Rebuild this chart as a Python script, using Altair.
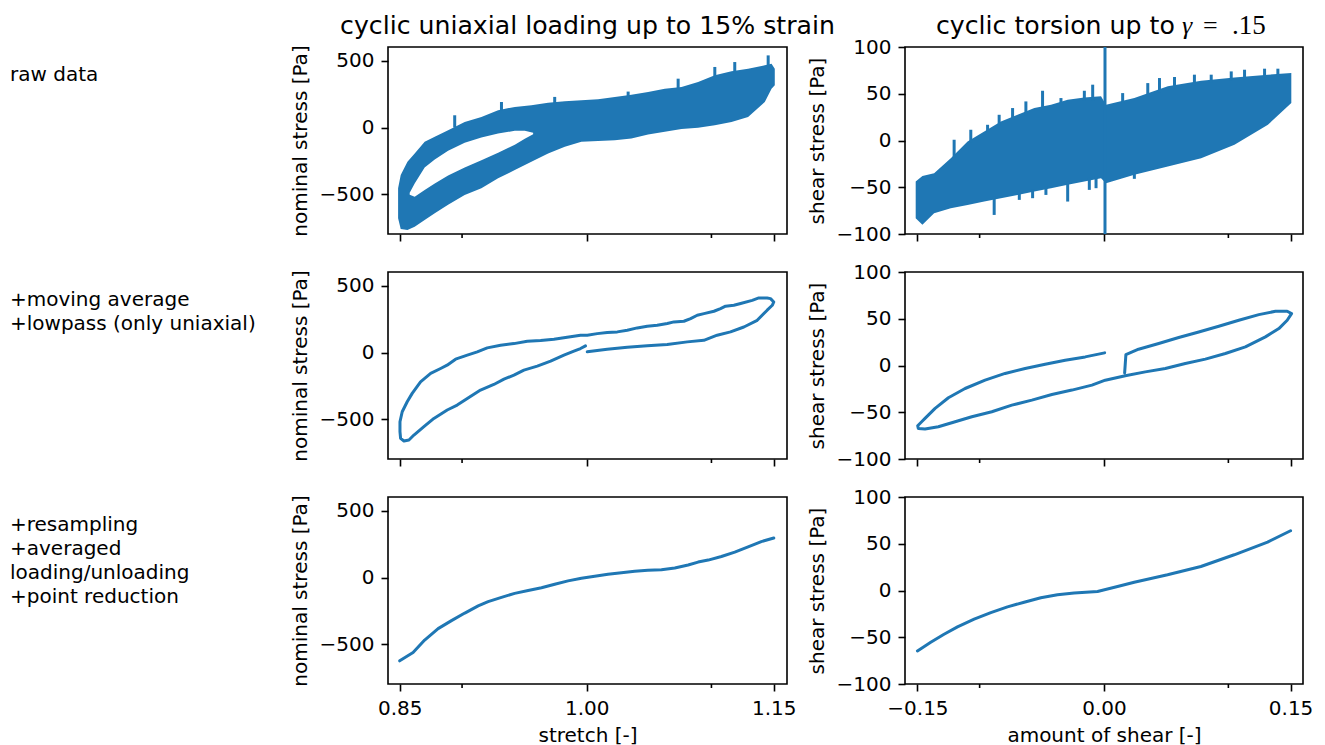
import altair as alt
import pandas as pd

BLUE = "#1f77b4"
FONT = "DejaVu Sans"
W1, W2, H = 399, 398, 187

# ---------------- raw data, uniaxial (band envelope) ----------------
raw_uni_x = [0.8487, 0.8508, 0.8562, 0.8620, 0.8700, 0.8781, 0.8888, 0.9021, 0.9155, 0.9289,
             0.9423, 0.9556, 0.9690, 0.9824, 0.9957, 1.0091, 1.0225, 1.0358, 1.0492, 1.0626,
             1.0760, 1.0893, 1.1027, 1.1161, 1.1294, 1.1428, 1.1482, 1.1508]
raw_uni_top = [-457, -357, -257, -195, -107, -70, -20, 42, 80, 130,
               155, 167, 187, 197, 205, 212, 230, 247, 267, 292,
               305, 342, 392, 422, 442, 467, 480, 442]
raw_uni_bot = [-682, -762, -770, -745, -695, -645, -580, -507, -457, -382,
               -320, -257, -195, -145, -107, -102, -95, -82, -52, -32,
               -12, -2, 17, 42, 80, 192, 292, 317]
# gap inside the loop
raw_uni_hole_x = [0.8580, 0.8620, 0.8700, 0.8781, 0.8888, 0.9021, 0.9155, 0.9289, 0.9423, 0.9503, 0.9570]
raw_uni_hole_top = [-490, -420, -300, -240, -175, -115, -75, -45, -25, -25, -40]
raw_uni_hole_bot = [-505, -520, -470, -420, -360, -300, -245, -190, -130, -85, -50]
# noise spikes above the band
raw_uni_spike_x = [0.8941, 0.9316, 0.9743, 1.0332, 1.0733, 1.1027, 1.1187, 1.1455]
raw_uni_spike_base = [0, 125, 180, 235, 290, 380, 415, 460]
raw_uni_spike_tip = [92, 192, 230, 270, 367, 455, 492, 542]

# ---------------- raw data, torsion ----------------
raw_tor_x = [-0.1514, -0.1460, -0.1366, -0.1232, -0.1097, -0.0963, -0.0829, -0.0695, -0.0560, -0.0426,
             -0.0292, -0.0158, -0.0024, 0.0016, 0.0244, 0.0513, 0.0781, 0.1049, 0.1318, 0.1506]
raw_tor_top = [-43.9, -38.0, -35.0, -18.9, -1.0, 9.7, 20.4, 27.5, 34.7, 38.2,
               43.6, 46.1, 47.2, 38.2, 45.4, 57.9, 63.9, 67.5, 70.4, 72.2]
raw_tor_bot = [-83.1, -90.0, -77.8, -72.4, -68.9, -65.3, -61.7, -58.2, -54.6, -51.0,
               -47.4, -43.9, -40.3, -45.7, -36.7, -27.8, -18.9, -4.6, 16.8, 40.0]
raw_tor_up_x = [-0.1205, -0.1071, -0.0936, -0.0843, -0.0735, -0.0628, -0.0494, -0.0346, -0.0158, -0.0091,
                0.0150, 0.0352, 0.0446, 0.0567, 0.0727, 0.0862, 0.1023, 0.1130, 0.1291, 0.1398]
raw_tor_up_base = [-18, -2, 8, 16, 22, 27, 33, 38, 43, 43, 39, 47, 51, 56, 59, 62, 64, 65, 67, 68]
raw_tor_up_tip = [0.8, 11.5, 16.8, 27.5, 34.7, 41.8, 53.2, 45.4, 53.2, 59.7,
                  50.7, 61.4, 66.8, 67.9, 70.4, 70.4, 73.9, 75.7, 76.8, 76.8]
raw_tor_dn_x = [-0.0883, -0.0681, -0.0574, -0.0467, -0.0292, -0.0118, -0.0064, 0.0244]
raw_tor_dn_base = [-60, -55, -52, -49, -44, -40, -38, -34]
raw_tor_dn_tip = [-79.6, -63.5, -61.7, -58.2, -65.3, -52.8, -51.0, -41.0]
raw_tor_jump_x = [0.0008]
raw_tor_jump_lo = [-100]
raw_tor_jump_hi = [100]

# ---------------- moving average (path order) ----------------
ma_uni_x = [1.0004, 1.0164, 1.0325, 1.0485, 1.0645, 1.0806, 1.0939, 1.1046, 1.1153, 1.1260,
            1.1367, 1.1447, 1.1488, 1.1500, 1.1474, 1.1447, 1.1380, 1.1327, 1.1234, 1.1180,
            1.1113, 1.1073, 1.1020, 1.0940, 1.0886, 1.0833, 1.0779, 1.0699, 1.0646, 1.0565,
            1.0485, 1.0405, 1.0325, 1.0245, 1.0164, 1.0084, 1.0004, 0.9950, 0.9843, 0.9737,
            0.9630, 0.9523, 0.9416, 0.9309, 0.9202, 0.9122, 0.9042, 0.8948, 0.8880, 0.8828,
            0.8748, 0.8667, 0.8600, 0.8560, 0.8520, 0.8502, 0.8502, 0.8507, 0.8534, 0.8574,
            0.8614, 0.8694, 0.8774, 0.8881, 0.8961, 0.9042, 0.9148, 0.9255, 0.9336, 0.9416,
            0.9496, 0.9603, 0.9710, 0.9817, 0.9897, 0.9950, 0.9990]
ma_uni_y = [5, 25, 40, 50, 60, 80, 92, 130, 155, 192,
            242, 318, 355, 380, 405, 410, 410, 392, 368, 355,
            348, 330, 310, 292, 280, 255, 235, 230, 218, 205,
            198, 185, 168, 155, 150, 142, 130, 130, 115, 100,
            90, 85, 67, 55, 35, 5, -20, -50, -95, -120,
            -157, -220, -307, -370, -445, -520, -595, -645, -665, -657,
            -620, -557, -495, -432, -395, -345, -282, -240, -200, -170,
            -132, -102, -65, -20, 10, 30, 50]

ma_tor_x = [0.0166, 0.0176, 0.0278, 0.0440, 0.0601, 0.0762, 0.0923, 0.1084, 0.1245, 0.1379,
            0.1473, 0.1508, 0.1473, 0.1406, 0.1298, 0.1137, 0.0976, 0.0815, 0.0654, 0.0493,
            0.0332, 0.0171, 0.0010, -0.0097, -0.0258, -0.0419, -0.0580, -0.0741, -0.0902, -0.1063,
            -0.1197, -0.1332, -0.1439, -0.1493, -0.1498, -0.1466, -0.1439, -0.1358, -0.1251, -0.1117,
            -0.0956, -0.0795, -0.0634, -0.0473, -0.0312, -0.0151, 0.0005]
ma_tor_y = [-7.8, 11.7, 17.4, 23.5, 29.9, 35.9, 42.0, 48.4, 54.4, 58.0,
            58.0, 55.5, 48.4, 39.5, 30.6, 19.9, 12.8, 6.8, 2.1, -3.2,
            -6.8, -11.0, -15.7, -21.0, -26.3, -31.0, -37.0, -42.4, -49.5, -54.8,
            -60.2, -65.5, -68.0, -67.3, -64.4, -60.2, -56.6, -45.9, -34.5, -24.6,
            -15.7, -8.5, -3.2, 1.4, 5.7, 9.2, 13.5]

# ---------------- reduced curves ----------------
red_uni_x = [0.85, 0.8607, 0.870, 0.8808, 0.8915, 0.9022, 0.9129, 0.9209, 0.9316, 0.9422,
             0.953, 0.9637, 0.9743, 0.985, 0.9957, 1.0064, 1.017, 1.0278, 1.0385, 1.049,
             1.0599, 1.0706, 1.0813, 1.0893, 1.0974, 1.108, 1.1187, 1.1294, 1.14, 1.15]
red_uni_y = [-626, -564, -470, -384, -324, -267, -213, -181, -149, -119,
             -97, -77, -50, -25, -5, 10, 25, 35, 47, 54,
             59, 72, 94, 116, 131, 158, 191, 230, 270, 297]
red_tor_x = [-0.15, -0.1393, -0.1286, -0.1178, -0.1044, -0.091, -0.0776, -0.0642, -0.0508, -0.0374,
             -0.024, -0.0052, 0.0109, 0.0243, 0.0511, 0.0779, 0.1047, 0.1315, 0.15]
red_tor_y = [-64.6, -55.4, -46.8, -38.9, -30.7, -23.6, -17.5, -12.5, -7.8, -4.6,
             -2.6, -1.1, 4.3, 8.9, 16.8, 25.7, 38.2, 51.8, 63.9]

# ---------------- axes / labels ----------------
uni_major = [0.85, 1.0, 1.15]
uni_minor = [0.9, 1.1]
tor_major = [-0.15, 0.0, 0.15]
tor_minor = [-0.1, 0.1]
uni_yticks = [-500, 0, 500]
tor_yticks = [-100, -50, 0, 50, 100]
X_UNI = [0.8406, 1.1606]
X_TOR = [-0.16, 0.16]
Y_UNI = [-800, 605]
Y_TOR = [-100, 100]

row_labels = ["raw data",
              "+moving average\n+lowpass (only uniaxial)",
              "+resampling\n+averaged\nloading/unloading\n+point reduction"]
title_uni = "cyclic uniaxial loading up to 15% strain"
title_tor_text = "cyclic torsion up to"
title_tor_gamma = "γ"
title_tor_eq = "="
title_tor_val = ".15"
xtitle_uni = "stretch [-]"
xtitle_tor = "amount of shear [-]"
ytitle_uni = "nominal stress [Pa]"
ytitle_tor = "shear stress [Pa]"

common_axis = dict(grid=False, domain=False, tickColor="black", tickWidth=1.6, tickSize=7,
                   labelFont=FONT, labelFontSize=20, labelColor="black", labelPadding=7,
                   labelFlush=False, labelOverlap=False,
                   titleFont=FONT, titleFontSize=20, titleFontWeight="normal", titleColor="black")


def make_x(field, dom, major, bottom, title):
    if bottom:
        ax = alt.Axis(values=major, format=".2f", title=title, titlePadding=7, **common_axis)
    else:
        ax = alt.Axis(values=major, labels=False, title=None, **common_axis)
    return alt.X(f"{field}:Q", scale=alt.Scale(domain=dom, nice=False, zero=False), axis=ax)


def make_y(field, dom, ticks, title):
    ax = alt.Axis(values=ticks, format="d", title=title, titlePadding=9, **common_axis)
    return alt.Y(f"{field}:Q", scale=alt.Scale(domain=dom, nice=False, zero=False), axis=ax)


def panel(layers_spec, dom_x, dom_y, major, minor, yticks, bottom, xtitle, ytitle, width, extra=()):
    X = lambda f: make_x(f, dom_x, major, bottom, xtitle)
    Y = lambda f: make_y(f, dom_y, yticks, ytitle)
    layers = []
    for kind, data, opts in layers_spec:
        base = alt.Chart(data)
        if kind == "area":
            layers.append(base.mark_area(clip=True, **opts).encode(
                x=X("x"), y=Y("lo"), y2="hi"))
        elif kind == "rule":
            layers.append(base.mark_rule(clip=True, **opts).encode(
                x=X("x"), y=Y("lo"), y2="hi"))
        elif kind == "line":
            layers.append(base.mark_line(clip=True, **opts).encode(
                x=X("x"), y=Y("y"), order=alt.Order("i:Q")))
    minor_df = pd.DataFrame({"x": minor})
    layers.append(alt.Chart(minor_df).mark_rule(color="black", strokeWidth=1.6).encode(
        x=X("x"), y=alt.value(H), y2=alt.value(H + 4)))
    layers.extend(extra)
    return alt.layer(*layers).properties(width=width, height=H)


def text_layer(txt, x, y, size=20, font=FONT, align="left", style="normal"):
    return alt.Chart(pd.DataFrame({"t": [txt]})).mark_text(
        font=font, fontSize=size, fontStyle=style, color="black", align=align,
        baseline="alphabetic", lineBreak="\n", lineHeight=24).encode(
        x=alt.value(x), y=alt.value(y), text="t:N")


def path_df(xs, ys):
    assert len(xs) == len(ys)
    return pd.DataFrame({"x": xs, "y": ys, "i": list(range(len(xs)))})


def band_df(xs, lo, hi):
    assert len(xs) == len(lo) == len(hi)
    return pd.DataFrame({"x": xs, "lo": lo, "hi": hi})


line_opts = dict(color=BLUE, strokeWidth=3, strokeJoin="round", strokeCap="round")
LABEL_X = -378
LABEL_Y = 34
TITLE_SIZE = 25.2

p11 = panel([
    ("area", band_df(raw_uni_x, raw_uni_bot, raw_uni_top), dict(color=BLUE, opacity=1)),
    ("area", band_df(raw_uni_hole_x, raw_uni_hole_bot, raw_uni_hole_top), dict(color="white", opacity=1)),
    ("rule", band_df(raw_uni_spike_x, raw_uni_spike_base, raw_uni_spike_tip), dict(color=BLUE, strokeWidth=3)),
], X_UNI, Y_UNI, uni_major, uni_minor, uni_yticks, False, None, ytitle_uni, W1,
    extra=[text_layer(row_labels[0], LABEL_X, LABEL_Y),
           text_layer(title_uni, W1 / 2, -13, size=TITLE_SIZE, align="center")])

p12 = panel([
    ("area", band_df(raw_tor_x, raw_tor_bot, raw_tor_top), dict(color=BLUE, opacity=1)),
    ("rule", band_df(raw_tor_up_x, raw_tor_up_base, raw_tor_up_tip), dict(color=BLUE, strokeWidth=3)),
    ("rule", band_df(raw_tor_dn_x, raw_tor_dn_base, raw_tor_dn_tip), dict(color=BLUE, strokeWidth=3)),
    ("rule", band_df(raw_tor_jump_x, raw_tor_jump_lo, raw_tor_jump_hi), dict(color=BLUE, strokeWidth=3)),
], X_TOR, Y_TOR, tor_major, tor_minor, tor_yticks, False, None, ytitle_tor, W2,
    extra=[text_layer(title_tor_text, 31, -13, size=TITLE_SIZE),
           text_layer(title_tor_gamma, 277, -13, size=26, font="Liberation Serif", style="italic"),
           text_layer(title_tor_eq, 298, -13, size=26, font="Liberation Serif"),
           text_layer(title_tor_val, 327, -13, size=27, font="Liberation Serif")])

p21 = panel([("line", path_df(ma_uni_x, ma_uni_y), line_opts)],
            X_UNI, Y_UNI, uni_major, uni_minor, uni_yticks, False, None, ytitle_uni, W1,
            extra=[text_layer(row_labels[1], LABEL_X, LABEL_Y)])
p22 = panel([("line", path_df(ma_tor_x, ma_tor_y), line_opts)],
            X_TOR, Y_TOR, tor_major, tor_minor, tor_yticks, False, None, ytitle_tor, W2)
p31 = panel([("line", path_df(red_uni_x, red_uni_y), line_opts)],
            X_UNI, Y_UNI, uni_major, uni_minor, uni_yticks, True, xtitle_uni, ytitle_uni, W1,
            extra=[text_layer(row_labels[2], LABEL_X, LABEL_Y)])
p32 = panel([("line", path_df(red_tor_x, red_tor_y), line_opts)],
            X_TOR, Y_TOR, tor_major, tor_minor, tor_yticks, True, xtitle_tor, ytitle_tor, W2)

chart = alt.concat(p11, p12, p21, p22, p31, p32, columns=2,
                   spacing={"row": 38, "column": 118}, bounds="flush").properties(
    padding={"left": 9, "top": 11, "right": 0, "bottom": 0},
    background="white",
).configure_view(stroke="black", strokeWidth=1.6)

chart.save("out.html", embed_options={"renderer": "svg", "actions": False})
